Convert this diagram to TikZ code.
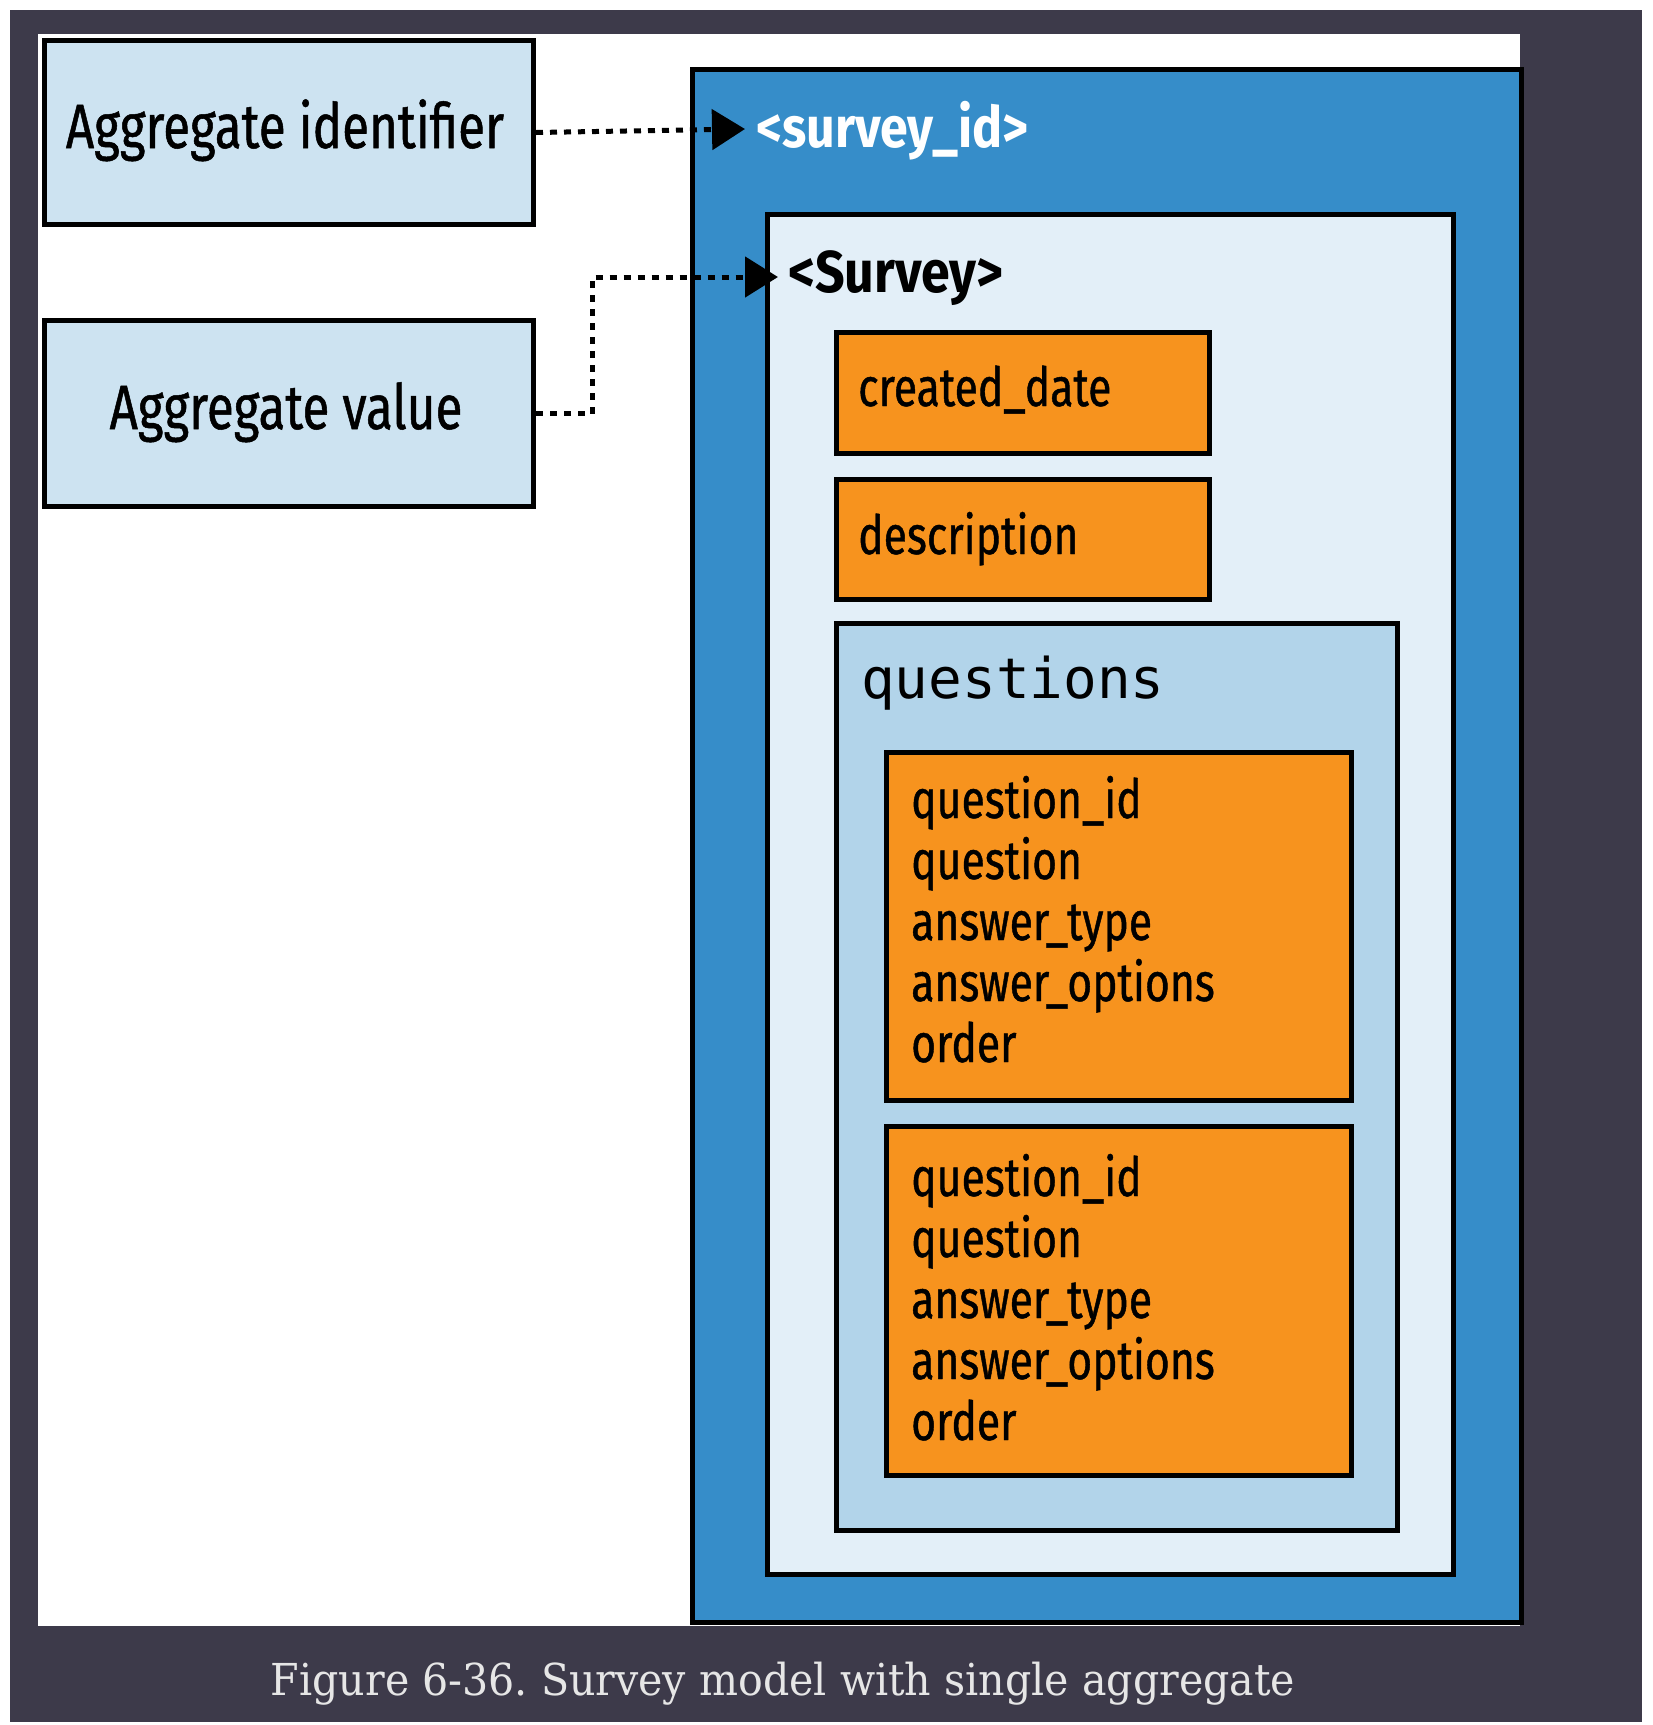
\documentclass[tikz,border=0pt]{standalone}
\usepackage{fontspec}
\newfontfamily\cond{Fira Sans}[FakeStretch=0.79, FakeBold=0.8]
\newfontfamily\condb{Fira Sans}[FakeStretch=0.88]
\newfontfamily\mono{DejaVu Sans Mono}
\newfontfamily\capfont{DejaVu Serif}[FakeStretch=0.935]
\usetikzlibrary{arrows.meta}
\definecolor{frame}{RGB}{61,58,74}
\definecolor{aggblue}{RGB}{205,227,241}
\definecolor{outerblue}{RGB}{54,141,201}
\definecolor{paleblue}{RGB}{227,239,248}
\definecolor{qblue}{RGB}{178,212,234}
\definecolor{orange}{RGB}{247,147,30}
\definecolor{captext}{RGB}{230,230,230}
\tikzset{
  box/.style={draw=black, line width=5pt, rectangle, inner sep=0pt, anchor=north west},
  lbl/.style={inner sep=0pt, anchor=base west, text=black},
  dotarrow/.style={draw=black, line width=5pt, dash pattern=on 7pt off 7pt,
    -{Triangle[length=33pt,width=40pt]}},
  aggfont/.style={font=\cond\fontsize{62.5}{70}\selectfont},
  bodyfont/.style={font=\cond\fontsize{54}{61}\selectfont},
}
\begin{document}
\frenchspacing
\begin{tikzpicture}[x=1pt,y=-1pt]
\useasboundingbox (0,0) rectangle (1653,1725);
\fill[white] (0,0) rectangle (1653,1725);
\fill[frame] (10,10) rectangle (1642,1722);
\fill[white] (38,34) rectangle (1520,1626);

% left boxes
\node[box, fill=aggblue, minimum width=489pt, minimum height=184pt] (ident) at (42,38) {};
\node[box, fill=aggblue, minimum width=489pt, minimum height=186pt] (value) at (42,318) {};
\node[aggfont, inner sep=0pt, anchor=base] (identtxt) at (285,148) {Aggregate identifier};
\node[aggfont, inner sep=0pt, anchor=base] (valuetxt) at (286,429) {Aggregate value};

% nested boxes
\node[box, fill=outerblue, minimum width=829pt, minimum height=1553pt] (outer) at (690,67) {};
\node[box, fill=paleblue, minimum width=686pt, minimum height=1360pt] (survey) at (765,212) {};
\node[box, fill=orange, minimum width=373pt, minimum height=121pt] (created) at (834,330) {};
\node[box, fill=orange, minimum width=373pt, minimum height=120pt] (descr) at (834,477) {};
\node[box, fill=qblue, minimum width=561pt, minimum height=907pt] (questions) at (834,621) {};
\node[box, fill=orange, minimum width=465pt, minimum height=348pt] (qone) at (884,750) {};
\node[box, fill=orange, minimum width=465pt, minimum height=349pt] (qtwo) at (884,1124) {};

% labels
\node[lbl, text=white, font=\condb\bfseries\fontsize{57}{60}\selectfont] (sid) at (756,147) {<survey\_id>};
\node[lbl, font=\condb\bfseries\fontsize{59}{64}\selectfont] (surveytxt) at (788,292) {<Survey>};
\node[lbl, bodyfont] (createdtxt) at (858,406) {created\_date};
\node[lbl, bodyfont] (descrtxt) at (858,554) {description};
\node[lbl, font=\mono\fontsize{56}{60}\selectfont] (qtxt) at (861,698) {questions};
\foreach \t [count=\i from 0] in {question\_id,question,answer\_type,answer\_options,order}{
  \node[lbl, bodyfont] (qa\i) at (911,818+61*\i) {\t};
  \node[lbl, bodyfont] (qb\i) at (911,1196+61*\i) {\t};
}

% caption
\node[inner sep=0pt, anchor=base, text=captext, font=\capfont\fontsize{44}{50}\selectfont] (caption) at (783,1695) {Figure 6-36. Survey model with single aggregate};

% connectors
\coordinate (sidtip) at (745,129);
\coordinate (bend) at (592,277);
\coordinate (svtip) at (778,277);
\draw[dotarrow] (ident.east) -- (sidtip);
\draw[dotarrow] (value.east) -| (bend) -- (svtip);
\end{tikzpicture}
\end{document}
